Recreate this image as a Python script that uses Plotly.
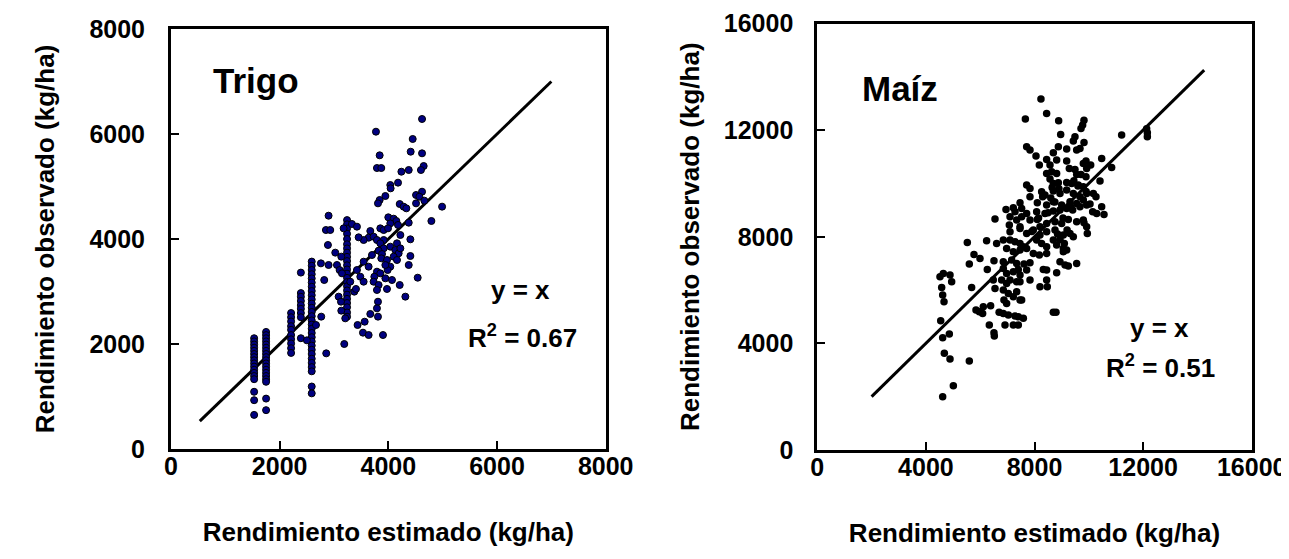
import plotly.graph_objects as go

# ---------------- Data: Trigo (wheat) ----------------
wheat_est = [
    # column ~1530
    1530, 1530, 1530, 1530, 1530, 1530, 1530, 1530, 1530, 1530, 1530, 1530, 1530, 1530, 1530, 1530, 1530,
    # column ~1750
    1750, 1750, 1750, 1750, 1750, 1750, 1750, 1750, 1750, 1750, 1750, 1750, 1750, 1750, 1750, 1750, 1750, 1750, 1750,
    # column ~2210
    2210, 2210, 2210, 2210, 2210, 2210, 2210, 2210, 2210, 2210,
    # column ~2390
    2390, 2390, 2390, 2390, 2390, 2390, 2390, 2390, 2390,
    # column ~2590
    2590, 2590, 2590, 2590, 2590, 2590, 2590, 2590, 2590, 2590, 2590, 2590, 2590, 2590, 2590,
    2590, 2590, 2590, 2590, 2590, 2590, 2590, 2590, 2590, 2590, 2590, 2590, 2590, 2590,
    # column ~3240
    3240, 3240, 3240, 3240, 3240, 3240, 3240, 3240, 3240, 3240, 3240, 3240,
    3240, 3240, 3240, 3240, 3240, 3240, 3240, 3240, 3240, 3240, 3240,
    # scattered
    4620, 3772, 4448, 3840, 4411, 4620, 3790, 3870, 4650, 4600, 4240, 4375, 4178, 4036, 4042,
    3945, 3840, 3809, 4620, 4510, 4571, 4663, 4510, 4209, 4282, 4331, 4989, 4792, 3999, 4098,
    4147, 4036, 4178, 4375, 3852, 3914, 3994, 3668, 3637, 3545, 3453, 3729, 3790, 3914, 3852,
    4221, 4159, 4405, 4036, 4128, 4190, 4221, 3914, 3821, 3883, 3699, 3870, 3975, 4098, 4405,
    4375, 4159, 4036, 3987, 3945, 3637, 3545, 3790, 3852, 3742, 3945, 4067, 3729, 4209, 3975,
    3821, 3790, 4540, 4313, 3809, 3790, 3668, 3564, 3434, 3533, 3637, 3809, 3901, 3484, 3545,
    3373, 3404, 3299, 3422, 3330, 3422, 3177, 3054, 3103, 3146, 3085, 3128, 3134, 3207, 3189,
    2900, 2851, 2931, 2888, 3023, 3134, 2759, 2900, 2820, 2765, 2857, 2668, 2501,
]
wheat_obs = [
    2110, 2050, 1990, 1930, 1870, 1810, 1750, 1690, 1630, 1570, 1510, 1450, 1390, 1330, 1090, 930, 650,
    2230, 2170, 2110, 2050, 1990, 1930, 1870, 1810, 1750, 1690, 1630, 1570, 1510, 1450, 1390, 1330, 1280, 960, 740,
    2590, 2510, 2430, 2340, 2270, 2170, 2090, 2010, 1920, 1830,
    3360, 2970, 2900, 2820, 2740, 2670, 2590, 2510, 2110,
    3570, 3490, 3410, 3330, 3250, 3170, 3090, 3010, 2930, 2850, 2770, 2690, 2610, 2530, 2450,
    2370, 2290, 2210, 2130, 2050, 1970, 1890, 1810, 1720, 1640, 1560, 1480, 1190, 1060,
    4360, 4280, 4200, 4100, 4000, 3900, 3820, 3740, 3660, 3580, 3500, 3420,
    3340, 3260, 3180, 3100, 3020, 2940, 2860, 2780, 2700, 2600, 2520,
    6286, 6044, 5905, 5594, 5663, 5632, 5352, 5352, 5390, 5314, 5282, 5314, 5073, 5028, 4965,
    4819, 4743, 4679, 4901, 4838, 4806, 4730, 4679, 4666, 4616, 4584, 4616, 4343, 4413, 4387,
    4343, 4298, 4267, 4311, 4203, 4171, 4203, 4152, 4025, 3981, 4032, 4045, 3981, 3981, 3918,
    4076, 3918, 3994, 3854, 3791, 3727, 3822, 3822, 3778, 3714, 3695, 3632, 3600, 3664, 3676,
    3505, 3600, 3473, 3409, 3505, 3473, 3568, 3378, 3346, 3282, 3251, 3219, 3187, 3124, 3048,
    3124, 3029, 3263, 2902, 2806, 2679, 2572, 2425, 2362, 2216, 2171, 2521, 2171, 3282, 3187,
    2997, 3048, 3187, 3409, 4286, 4235, 4203, 3505, 3409, 3346, 2902, 2806, 2635, 2489, 2000,
    4444, 4171, 4171, 3886, 3740, 3664, 3536, 3505, 3219, 2521, 1822, 2362, 2070,
]

# ---------------- Data: Maíz (maize) ----------------
maize_est = [
    8238, 8447, 7663, 8890, 9823, 9774, 9713, 8964, 11210, 12131, 12156, 12156, 9491, 9430, 9823,
    7711, 7834, 8878, 9185, 8694, 9553, 9675, 8055, 8447, 8816, 9185, 9897, 9798, 10474, 8178,
    8571, 9283, 9491, 9921, 10069, 10842, 8447, 8632, 8816, 9553, 9713, 9897, 8571, 10413, 7711,
    7834, 8693, 8878, 9185, 9369, 9613, 9798, 7834, 8263, 8386, 8693, 8939, 9185, 9430, 9675,
    9921, 10167, 10265, 8104, 8447, 8693, 9000, 9307, 9553, 9798, 10044, 7466, 7220, 6950, 7282,
    7527, 7711, 8079, 8386, 8693, 8939, 9185, 9406, 9675, 9921, 10142, 10290, 10474, 10560, 6545,
    7098, 7073, 7343, 7527, 7466, 7834, 8104, 8202, 8447, 8755, 9000, 9246, 9553, 9798, 9823,
    9921, 9946, 7098, 7466, 7711, 7957, 8202, 8447, 8755, 9062, 9307, 8939, 9099, 9430, 8079,
    8263, 8447, 8693, 8816, 9062, 9185, 5525, 6236, 6605, 6851, 7098, 7282, 7466, 7589, 6974,
    7220, 7466, 7711, 7957, 8178, 8447, 9062, 9553, 5771, 5992, 5599, 6507, 6851, 7159, 7343,
    7613, 7834, 8939, 9124, 9246, 6261, 6482, 6851, 6974, 7220, 7404, 7466, 7711, 8325, 8447,
    4519, 4642, 4888, 4949, 4581, 4618, 4667, 5685, 6545, 6790, 6974, 7098, 7343, 7466, 7834,
    8202, 8447, 8472, 8816, 6851, 7036, 7220, 7343, 7466, 6875, 6974, 7527, 5845, 5967, 6114,
    6089, 6384, 6697, 6851, 7036, 7282, 7404, 7589, 8693, 8792, 6335, 6507, 6520, 6913, 7220,
    7404, 4545, 4618, 4863, 4679, 4888, 5599, 5011, 4618,
    8600, 8900, 9350, 9050, 8300, 8750, 9600, 9200, 8500, 8150, 9450, 8850, 7900, 8650, 9900,
]
maize_obs = [
    13163, 12625, 12413, 12350, 12375, 12188, 12063, 11838, 11813, 12050, 11900, 11750, 11750, 11588, 11538,
    11375, 11250, 11375, 11288, 11150, 11250, 11313, 11025, 10900, 10875, 10838, 10838, 10750, 10938, 10688,
    10688, 10563, 10525, 10563, 10688, 10600, 10375, 10438, 10375, 10338, 10338, 10250, 10163, 10088, 9938,
    9813, 10000, 10025, 10038, 10000, 9938, 9875, 9500, 9688, 9563, 9713, 9625, 9750, 9625, 9500,
    9625, 9625, 9500, 9275, 9188, 9313, 9188, 9313, 9250, 9375, 9225, 9275, 9088, 9025, 8938,
    9063, 8875, 8938, 8875, 8963, 9000, 9063, 9000, 9125, 9188, 8938, 8875, 9125, 8838, 8663,
    8750, 8438, 8625, 8750, 8375, 8625, 8650, 8375, 8500, 8563, 8500, 8650, 8563, 8625, 8525,
    8375, 8125, 8188, 8313, 8125, 8250, 8063, 8188, 8250, 8063, 8125, 7900, 7750, 8000, 7875,
    7750, 7625, 7875, 7688, 7563, 7500, 7788, 7850, 7750, 7875, 7875, 7813, 7750, 7625, 7563,
    7438, 7500, 7563, 7375, 7313, 7375, 7438, 7000, 7338, 7188, 6975, 7100, 7063, 7125, 7000,
    6975, 7025, 7063, 6938, 6900, 6775, 6375, 6813, 6625, 6688, 6775, 6563, 6750, 6775, 6750,
    6500, 6625, 6563, 6313, 6100, 5813, 5563, 6100, 6063, 6375, 6250, 6375, 6313, 6313, 6375,
    6125, 6375, 6125, 6650, 6000, 5875, 5750, 5938, 5625, 5625, 5500, 5625, 5250, 5188, 5375,
    5125, 5413, 5163, 5125, 5063, 5025, 5000, 4938, 5163, 5163, 4688, 4400, 4275, 4688, 4688,
    4688, 4850, 4213, 4350, 3625, 3413, 3338, 2413, 2000,
    9450, 9800, 9100, 8700, 9500, 9300, 9900, 8250, 8900, 8700, 10100, 8100, 8200, 9850, 9700,
]

# ---------------- 1:1 lines ----------------
wheat_line = [530, 7000]
maize_line = [2000, 14250]

FONT = "Liberation Sans, Arial, sans-serif"

# The page body has an 8 px margin: size the figure so that it fits the window
W, H, OFF = 1281, 543, 8


def px_x(px):
    return (px - OFF) / W


def px_y(py):
    return 1 - (py - OFF) / H


fig = go.Figure()

fig.add_trace(go.Scatter(
    x=wheat_line, y=wheat_line, mode="lines",
    line=dict(color="black", width=3), xaxis="x", yaxis="y", hoverinfo="skip"))
fig.add_trace(go.Scatter(
    x=wheat_est, y=wheat_obs, mode="markers",
    marker=dict(size=7, color="#000080", line=dict(color="black", width=1)),
    xaxis="x", yaxis="y"))

fig.add_trace(go.Scatter(
    x=maize_line, y=maize_line, mode="lines",
    line=dict(color="black", width=3), xaxis="x2", yaxis="y2", hoverinfo="skip"))
fig.add_trace(go.Scatter(
    x=maize_est, y=maize_obs, mode="markers",
    marker=dict(size=7.5, color="black", line=dict(width=0)),
    xaxis="x2", yaxis="y2"))

axis_common = dict(
    showgrid=False, zeroline=False, showline=True, linecolor="black", linewidth=3,
    mirror=True, ticks="inside", ticklen=8, tickwidth=2, tickcolor="black",
    tickfont=dict(family=FONT, size=25, color="black", weight="bold"),
    tickformat="d", automargin=False,
)
title_font = dict(family=FONT, size=26, color="black", weight="bold")

fig.update_layout(
    width=W, height=H,
    margin=dict(l=0, r=0, t=0, b=0),
    paper_bgcolor="white", plot_bgcolor="white",
    showlegend=False,
    xaxis=dict(domain=[px_x(171), px_x(605.7)], range=[0, 8000], tickvals=[0, 2000, 4000, 6000, 8000],
               anchor="y", ticklabelstandoff=-7,
               title=dict(text="Rendimiento estimado (kg/ha)", font=title_font, standoff=44),
               **axis_common),
    yaxis=dict(domain=[px_y(449), px_y(29)], range=[0, 8000], tickvals=[0, 2000, 4000, 6000, 8000],
               anchor="x", ticklabelstandoff=18,
               title=dict(text="Rendimiento observado (kg/ha)", font=title_font, standoff=28),
               **axis_common),
    xaxis2=dict(domain=[px_x(817.3), px_x(1251.7)], range=[0, 16000], tickvals=[0, 4000, 8000, 12000, 16000],
                anchor="y2", ticklabelstandoff=-7,
                title=dict(text="Rendimiento estimado (kg/ha)", font=title_font, standoff=44),
                **axis_common),
    yaxis2=dict(domain=[px_y(450), px_y(23.5)], range=[0, 16000], tickvals=[0, 4000, 8000, 12000, 16000],
                anchor="x2", ticklabelstandoff=16,
                title=dict(text="Rendimiento observado (kg/ha)", font=title_font, standoff=17),
                **axis_common),
)

ann_font = dict(family=FONT, size=26, color="black", weight="bold")
big_font = dict(family=FONT, size=35, color="black", weight="bold")


def add_text(text, px, py, font):
    fig.add_annotation(text=text, x=px_x(px), y=px_y(py), xref="paper", yref="paper",
                       xanchor="center", yanchor="middle", showarrow=False, font=font)


add_text("Trigo", 256, 80, big_font)
add_text("Maíz", 900, 88, big_font)
add_text("y = x", 520, 290, ann_font)
add_text("R<sup>2</sup> = 0.67", 522, 336, ann_font)
add_text("y = x", 1159, 328, ann_font)
add_text("R<sup>2</sup> = 0.51", 1160, 366, ann_font)

fig.write_html("out.html")
